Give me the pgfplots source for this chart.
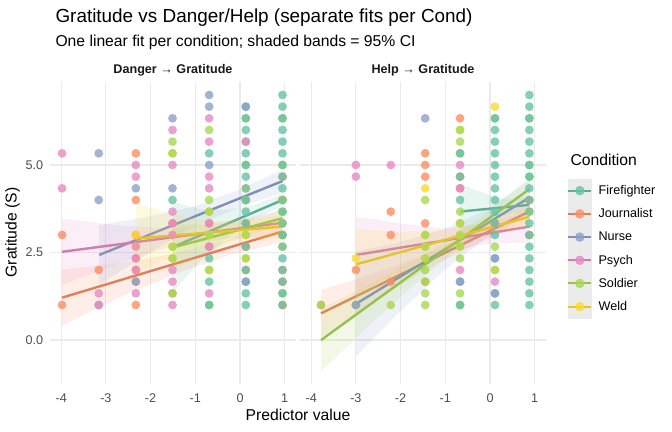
\documentclass[border=0pt]{standalone}
\usepackage{pgfplots}
\pgfplotsset{compat=1.18}
\usepackage{fontspec}
\setmainfont{Liberation Sans}

\definecolor{cFire}{HTML}{66C2A5}
\definecolor{cJour}{HTML}{FC8D62}
\definecolor{cNurse}{HTML}{8DA0CB}
\definecolor{cPsych}{HTML}{E78AC3}
\definecolor{cSold}{HTML}{A6D854}
\definecolor{cWeld}{HTML}{FFD92F}
\definecolor{gridc}{HTML}{EBEBEB}
\definecolor{tickc}{HTML}{4D4D4D}
\definecolor{keybg}{HTML}{EBEBEB}

\pgfplotsset{
  panel/.style={
    scale only axis, width=245.9bp, height=301.7bp,
    xmin=-4.25, xmax=1.25, ymin=-1.25, ymax=7.37,
    axis line style={draw=none}, tick style={draw=none}, major tick length=0pt,
    grid=major, major grid style={line width=1.1bp, color=gridc},
    xtick={-4,-3,-2,-1,0,1}, xticklabels={-4,-3,-2,-1,0,1},
    ytick={0,2.5,5},
    tick label style={font=\fontsize{12.6bp}{14bp}\selectfont, text=tickc},
    xticklabel style={inner sep=0pt, anchor=north, yshift=-9.5bp},
    yticklabel style={inner sep=0pt, anchor=east, xshift=-6.7bp},
  },
  pt/.style={only marks, mark=*, mark size=4.4bp, forget plot, color=#1,
    mark options={fill=#1, fill opacity=0.8, draw opacity=0}},
  band/.style={draw=none, fill=#1, fill opacity=0.15, forget plot},
  fit/.style={line width=2.4bp, color=#1!90!black, no marks, forget plot},
  leg/.style={legend image code/.code={
    \fill[keybg] (0bp,-11.4bp) rectangle (22.7bp,11.4bp);
    \draw[#1!90!black, line width=2bp] (0bp,0bp) -- (22.7bp,0bp);
    \fill[#1, fill opacity=0.8] (11.35bp,0bp) circle (4.4bp);}},
}

\begin{document}
\begin{tikzpicture}
\path[use as bounding box] (0bp,0bp) rectangle (672bp,432bp);

% ---- Danger -> Gratitude
\begin{axis}[panel, at={(50bp,48.25bp)}, anchor=south west,
  yticklabels={0.0,2.5,5.0}]
\addplot[pt=cJour] coordinates {(-3.98,3)(-3.98,1)(-3.16,2)(-2.33,5.333)(-2.33,4)(-2.33,3)(-2.33,2.333)(-2.33,2)(-2.33,1.667)(-2.33,1)(-1.51,3.333)(-1.51,1.333)(-0.69,3.333)(-0.69,2.667)(0.13,4)(0.13,3.333)(0.13,2.667)(0.13,2)(0.95,4.667)(0.95,4)(0.95,3.333)(0.95,3)(0.95,2)(0.95,1.667)(0.95,1)};
\addplot[pt=cWeld] coordinates {(-2.33,3)(-2.33,2.667)(-1.51,5.333)(-1.51,3)(-1.51,2.667)(-1.51,2.333)(-0.69,3.667)(-0.69,3)(-0.69,2)(0.13,3)(0.13,2.333)(0.13,4.333)(0.95,3.333)(0.95,2.667)(0.95,4)};
\addplot[pt=cSold] coordinates {(-1.51,5.667)(-1.51,5.333)(-1.51,2.667)(-1.51,2.333)(-1.51,1.333)(-0.69,6)(-0.69,4)(-0.69,3.667)(-0.69,3)(-0.69,2)(-0.69,1)(0.13,6.333)(0.13,5)(0.13,3)(0.13,2.333)(0.13,4)(0.95,6.333)(0.95,1.333)(0.95,3.667)(0.95,3)(0.95,5)};
\addplot[pt=cFire] coordinates {(-1.51,4)(-0.69,5.333)(-0.69,2.333)(-0.69,1.667)(-0.69,1)
 (0.13,6.667)(0.13,6.333)(0.13,6)(0.13,5.667)(0.13,5.333)(0.13,5)(0.13,4.667)(0.13,4.333)(0.13,4)(0.13,3.667)(0.13,3.333)(0.13,2.667)(0.13,2)(0.13,1.667)(0.13,1.333)(0.13,1)
 (0.95,7)(0.95,6.667)(0.95,6.333)(0.95,6)(0.95,5.667)(0.95,5.333)(0.95,5)(0.95,4.667)(0.95,4.333)(0.95,4)(0.95,3.667)(0.95,3.333)(0.95,3)(0.95,2.667)(0.95,2.333)(0.95,2)(0.95,1.667)(0.95,1.333)(0.95,1)};
\addplot[pt=cNurse] coordinates {(-3.16,5.333)(-3.16,4)(-3.16,1)(-2.33,4.333)(-2.33,1.667)(-1.51,6.333)(-1.51,4.333)(-0.69,7)(-0.69,6.667)(-0.69,5)(0.13,6.667)(0.13,1.667)};
\addplot[pt=cPsych] coordinates {(-3.98,5.333)(-3.98,4.333)(-3.16,1.333)(-3.16,1)(-2.33,5)(-2.33,4.667)(-2.33,2.667)(-2.33,2.333)(-2.33,2)(-2.33,1.333)(-1.51,6)(-1.51,5)(-1.51,3.667)(-1.51,3.333)(-1.51,3)(-1.51,2)(-1.51,1.667)(-1.51,1)(-0.69,6.333)(-0.69,5.667)(-0.69,4.667)(-0.69,4.333)(-0.69,3.333)(-0.69,2.667)(-0.69,1.333)(0.13,5.667)};
% fits and 95% bands
\addplot[band=cFire] coordinates {(-1.51,3.95)(-0.895,3.738)(-0.28,3.726)(0.335,3.864)(0.95,4.18)(0.95,3.82)(0.335,3.464)(-0.28,2.926)(-0.895,2.238)(-1.51,1.35)} -- cycle;
\addplot[fit=cFire] coordinates {(-1.51,2.65)(0.95,4.0)};
\addplot[band=cJour] coordinates {(-3.98,2.01)(-2.75,2.182)(-1.52,2.453)(-0.28,2.848)(0.95,3.40)(0.95,2.80)(-0.28,2.408)(-1.52,1.853)(-2.75,1.182)(-3.98,0.41)} -- cycle;
\addplot[fit=cJour] coordinates {(-3.98,1.21)(0.95,3.10)};
\addplot[band=cNurse] coordinates {(-3.15,3.28)(-2.125,3.507)(-1.1,3.785)(-0.075,4.263)(0.95,4.87)(0.95,4.21)(-0.075,3.763)(-1.1,3.185)(-2.125,2.407)(-3.15,1.58)} -- cycle;
\addplot[fit=cNurse] coordinates {(-3.15,2.43)(0.95,4.54)};
\addplot[band=cPsych] coordinates {(-3.98,3.47)(-2.75,3.277)(-1.52,3.184)(-0.28,3.393)(0.95,3.70)(0.95,3.00)(-0.28,2.893)(-1.52,2.684)(-2.75,2.177)(-3.98,1.57)} -- cycle;
\addplot[fit=cPsych] coordinates {(-3.98,2.52)(0.95,3.35)};
\addplot[band=cSold] coordinates {(-1.51,3.34)(-0.895,3.30)(-0.28,3.34)(0.335,3.47)(0.95,3.73)(0.95,3.23)(0.335,3.07)(-0.28,2.78)(-0.895,2.40)(-1.51,1.94)} -- cycle;
\addplot[fit=cSold] coordinates {(-1.51,2.64)(0.95,3.48)};
\addplot[band=cWeld] coordinates {(-2.33,3.9)(-1.51,3.585)(-0.69,3.42)(0.13,3.405)(0.95,3.59)(0.95,2.89)(0.13,2.905)(-0.69,2.72)(-1.51,2.385)(-2.33,1.9)} -- cycle;
\addplot[fit=cWeld] coordinates {(-2.33,2.9)(0.95,3.24)};
\end{axis}

% ---- Help -> Gratitude
\begin{axis}[panel, at={(300bp,48.25bp)}, anchor=south west,
  yticklabels={},
  legend style={at={(rel axis cs:1.0866,0.679)}, anchor=north west,
    draw=none, fill=none, inner sep=0pt, row sep=0pt,
    font=\fontsize{12.6bp}{14bp}\selectfont,
    nodes={inner sep=0pt, text=black},
    /tikz/every even column/.append style={column sep=0pt}},
  legend cell align=left]
\addplot[pt=cJour] coordinates {(-3.78,1)(-3.0,2)(-2.22,3.667)(-2.22,3)(-2.22,1.667)(-1.45,5.333)(-1.45,5)(-1.45,4.667)(-1.45,3.333)(-1.45,1.667)(-0.67,6.333)(-0.67,4.667)(-0.67,4.333)(0.11,3.333)(0.88,4)(0.88,3)};
\addplot[pt=cWeld] coordinates {(-3.0,2.333)(-1.45,4.333)(-1.45,3)(-1.45,2.667)(-1.45,2.333)(-0.67,6)(-0.67,3.333)(-0.67,3)(-0.67,2.667)(0.11,6.667)(0.11,2)(0.88,3.667)};
\addplot[pt=cSold] coordinates {(-3.78,1)(-3.0,1)(-2.22,1)(-1.45,4)(-1.45,3)(-1.45,2.667)(-1.45,2.333)(-1.45,2)(-1.45,1.667)(-1.45,1.333)(-1.45,1)(-0.67,6)(-0.67,5.667)(-0.67,5.333)(-0.67,3.667)(-0.67,3.333)(-0.67,3)(-0.67,2.667)(-0.67,2.333)(-0.67,1.333)(-0.67,1)(0.11,6.333)(0.11,2.667)(0.11,2)(0.88,6.333)(0.88,5)(0.88,4.667)};
\addplot[pt=cFire] coordinates {(-0.67,5.333)(-0.67,4.667)(-0.67,4)(-0.67,1.667)(-0.67,1)
 (0.11,6.333)(0.11,6)(0.11,5.667)(0.11,5.333)(0.11,5)(0.11,4.667)(0.11,4.333)(0.11,4)(0.11,3.667)(0.11,3.333)(0.11,3)(0.11,2.333)(0.11,1.333)(0.11,1)
 (0.88,7)(0.88,6.667)(0.88,6.333)(0.88,6)(0.88,5.667)(0.88,5.333)(0.88,5)(0.88,4.667)(0.88,4.333)(0.88,4)(0.88,3.667)(0.88,3.333)(0.88,3)(0.88,2.667)(0.88,2.333)(0.88,2)(0.88,1.667)(0.88,1.333)(0.88,1)};
\addplot[pt=cNurse] coordinates {(-3.0,1)(-1.45,6.333)(-0.67,1.667)(0.11,2.333)(0.11,1.333)};
\addplot[pt=cPsych] coordinates {(-3.0,5)(-3.0,4.667)(-2.22,5)(-0.67,5)(-0.67,4.333)(-0.67,2)(0.11,1.667)};
% fits and 95% bands
\addplot[band=cFire] coordinates {(-0.67,4.47)(-0.2825,4.2675)(0.105,4.065)(0.4925,4.0125)(0.88,4.11)(0.88,3.61)(0.4925,3.6125)(0.105,3.465)(-0.2825,3.1675)(-0.67,2.87)} -- cycle;
\addplot[fit=cFire] coordinates {(-0.67,3.67)(0.88,3.86)};
\addplot[band=cJour] coordinates {(-3.78,1.43)(-2.615,1.888)(-1.45,2.435)(-0.285,3.123)(0.88,3.97)(0.88,3.37)(-0.285,2.763)(-1.45,1.995)(-2.615,1.088)(-3.78,0.09)} -- cycle;
\addplot[fit=cJour] coordinates {(-3.78,0.76)(0.88,3.67)};
\addplot[band=cNurse] coordinates {(-3.0,2.53)(-2.03,2.79)(-1.06,3.15)(-0.09,3.71)(0.88,4.57)(0.88,3.57)(-0.09,2.91)(-1.06,1.95)(-2.03,0.79)(-3.0,-0.47)} -- cycle;
\addplot[fit=cNurse] coordinates {(-3.0,1.03)(0.88,4.07)};
\addplot[band=cPsych] coordinates {(-3.0,3.53)(-2.03,3.333)(-1.06,3.185)(-0.09,3.338)(0.88,3.69)(0.88,2.79)(-0.09,2.738)(-1.06,2.485)(-2.03,1.933)(-3.0,1.33)} -- cycle;
\addplot[fit=cPsych] coordinates {(-3.0,2.43)(0.88,3.24)};
\addplot[band=cSold] coordinates {(-3.78,0.9)(-2.615,1.6275)(-1.45,2.455)(-0.285,3.4325)(0.88,4.61)(0.88,4.01)(-0.285,3.0325)(-1.45,1.855)(-2.615,0.5275)(-3.78,-0.9)} -- cycle;
\addplot[fit=cSold] coordinates {(-3.78,0.0)(0.88,4.31)};
\addplot[band=cWeld] coordinates {(-3.0,3.16)(-2.03,3.1)(-1.06,3.14)(-0.09,3.38)(0.88,3.82)(0.88,3.22)(-0.09,2.98)(-1.06,2.54)(-2.03,1.9)(-3.0,1.16)} -- cycle;
\addplot[fit=cWeld] coordinates {(-3.0,2.16)(0.88,3.52)};
% legend
\addlegendimage{leg=cFire}\addlegendentry{\hspace{6.5bp}Firefighter}
\addlegendimage{leg=cJour}\addlegendentry{\hspace{6.5bp}Journalist}
\addlegendimage{leg=cNurse}\addlegendentry{\hspace{6.5bp}Nurse}
\addlegendimage{leg=cPsych}\addlegendentry{\hspace{6.5bp}Psych}
\addlegendimage{leg=cSold}\addlegendentry{\hspace{6.5bp}Soldier}
\addlegendimage{leg=cWeld}\addlegendentry{\hspace{6.5bp}Weld}
\end{axis}

% titles and labels
\node[anchor=base west, font=\fontsize{18.9bp}{22bp}\selectfont] at (52bp,409bp) {Gratitude vs Danger/Help (separate fits per Cond)};
\node[anchor=base west, font=\fontsize{15.7bp}{18bp}\selectfont] at (52bp,385bp) {One linear fit per condition; shaded bands = 95\% CI};
\node[anchor=base, font=\bfseries\fontsize{12.6bp}{14bp}\selectfont, text=black!90] at (173bp,358bp) {Danger → Gratitude};
\node[anchor=base, font=\bfseries\fontsize{12.6bp}{14bp}\selectfont, text=black!90] at (423bp,358bp) {Help → Gratitude};
\node[rotate=90, font=\fontsize{15.7bp}{18bp}\selectfont] at (12.5bp,199.5bp) {Gratitude (S)};
\node[font=\fontsize{15.7bp}{18bp}\selectfont] at (298bp,17bp) {Predictor value};
\node[anchor=base west, font=\fontsize{15.7bp}{18bp}\selectfont] at (567bp,266.5bp) {Condition};
\end{tikzpicture}
\end{document}
